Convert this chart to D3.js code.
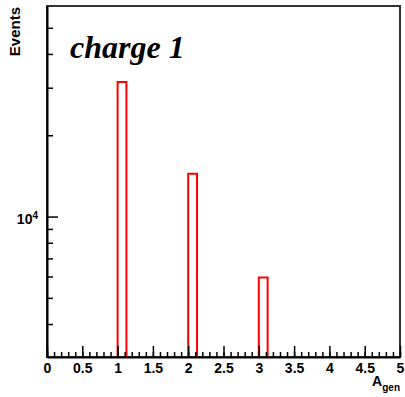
<!DOCTYPE html>
<html lang="en">
<head>
<meta charset="utf-8">
<title>charge 1</title>
<script src="https://cdn.jsdelivr.net/npm/d3@7"></script>
<style>
  body { margin: 0; background: #fff; }
  .tl text { font-family: "Liberation Sans", Arial, sans-serif; font-weight: bold; font-size: 14px; fill: #000; }
</style>
</head>
<body>
<script>
// histogram bins (lower edge) and contents
var binLow = [1, 2, 3];
var counts = [31500, 14400, 5950];
var binWidth = 0.125;

var xTicks = [0, 0.5, 1, 1.5, 2, 2.5, 3, 3.5, 4, 4.5, 5];
var yMajor = [10000];
var yMinor = [4000, 5000, 6000, 7000, 8000, 9000, 20000, 30000, 40000, 50000];

var W = 405, H = 397;
var padL = 47, padR = 400, padT = 6, padB = 357;

var x = d3.scaleLinear().domain([0, 5]).range([padL, padR]);
var y = d3.scaleLog().domain([3020, 60200]).range([padB, padT]);

var svg = d3.select("body").append("svg")
    .attr("width", W)
    .attr("height", H);

// frame
svg.append("rect")
    .attr("x", padL).attr("y", padT)
    .attr("width", padR - padL).attr("height", padB - padT)
    .attr("fill", "none")
    .attr("stroke", "#333")
    .attr("stroke-width", 2);

// histogram outline
var path = "";
binLow.forEach(function(b, i) {
    path += "M" + x(b) + "," + padB +
            "V" + y(counts[i]) +
            "H" + x(b + binWidth) +
            "V" + padB;
});
svg.append("path")
    .attr("d", path)
    .attr("fill", "none")
    .attr("stroke", "#ff0000")
    .attr("stroke-width", 2);

// x axis: minor ticks
var xMinorVals = d3.range(0, 51).map(function(d) { return d / 10; });
svg.append("g")
    .attr("transform", "translate(0," + padB + ")")
    .call(d3.axisBottom(x).tickValues(xMinorVals).tickSize(-5).tickSizeOuter(0).tickFormat(""))
    .call(function(g) {
        g.select(".domain").attr("stroke", "#000").attr("stroke-width", 2);
        g.selectAll(".tick line").attr("stroke", "#000").attr("stroke-width", 1.5);
    });

// x axis: major ticks + labels
svg.append("g")
    .attr("class", "tl")
    .attr("transform", "translate(0," + padB + ")")
    .call(d3.axisBottom(x).tickValues(xTicks).tickSize(-11).tickSizeOuter(0).tickPadding(6)
        .tickFormat(function(d) { return String(d); }))
    .call(function(g) {
        g.select(".domain").remove();
        g.selectAll(".tick line").attr("stroke", "#000").attr("stroke-width", 1.5);
        g.selectAll(".tick text").attr("font-family", null).attr("font-size", null);
    });

// y axis: minor ticks
svg.append("g")
    .attr("transform", "translate(" + padL + ",0)")
    .call(d3.axisLeft(y).tickValues(yMinor).tickSize(-6).tickSizeOuter(0).tickFormat(""))
    .call(function(g) {
        g.select(".domain").attr("stroke", "#000").attr("stroke-width", 2);
        g.selectAll(".tick line").attr("stroke", "#000").attr("stroke-width", 1.5);
    });

// y axis: major ticks + labels
var yAx = svg.append("g")
    .attr("class", "tl")
    .attr("transform", "translate(" + padL + ",0)")
    .call(d3.axisLeft(y).tickValues(yMajor).tickSize(-11).tickSizeOuter(0).tickPadding(9).tickFormat(""))
    .call(function(g) {
        g.select(".domain").remove();
        g.selectAll(".tick line").attr("stroke", "#000").attr("stroke-width", 1.5);
    });
yAx.selectAll(".tick text")
    .attr("font-family", null).attr("font-size", null)
    .attr("dy", "0.5em")
    .each(function(d) {
        var t = d3.select(this);
        t.append("tspan").text("10");
        t.append("tspan").attr("dy", "-0.55em").attr("font-size", "10px").text(Math.round(Math.log10(d)));
    });

// axis titles
svg.append("text")
    .attr("transform", "translate(20,7) rotate(-90)")
    .attr("text-anchor", "end")
    .attr("font-family", "Liberation Sans, Arial, sans-serif")
    .attr("font-weight", "bold")
    .attr("font-size", "15px")
    .text("Events");

var xt = svg.append("text")
    .attr("x", padR)
    .attr("y", 386)
    .attr("text-anchor", "end")
    .attr("font-family", "Liberation Sans, Arial, sans-serif")
    .attr("font-weight", "bold")
    .attr("font-size", "14px");
xt.append("tspan").text("A");
xt.append("tspan").attr("dy", "5").attr("font-size", "10px").text("gen");

// label
svg.append("text")
    .attr("x", 70)
    .attr("y", 58)
    .attr("font-family", "Liberation Serif, Times New Roman, serif")
    .attr("font-weight", "bold")
    .attr("font-style", "italic")
    .attr("font-size", "32px")
    .text("charge 1");
</script>
</body>
</html>
